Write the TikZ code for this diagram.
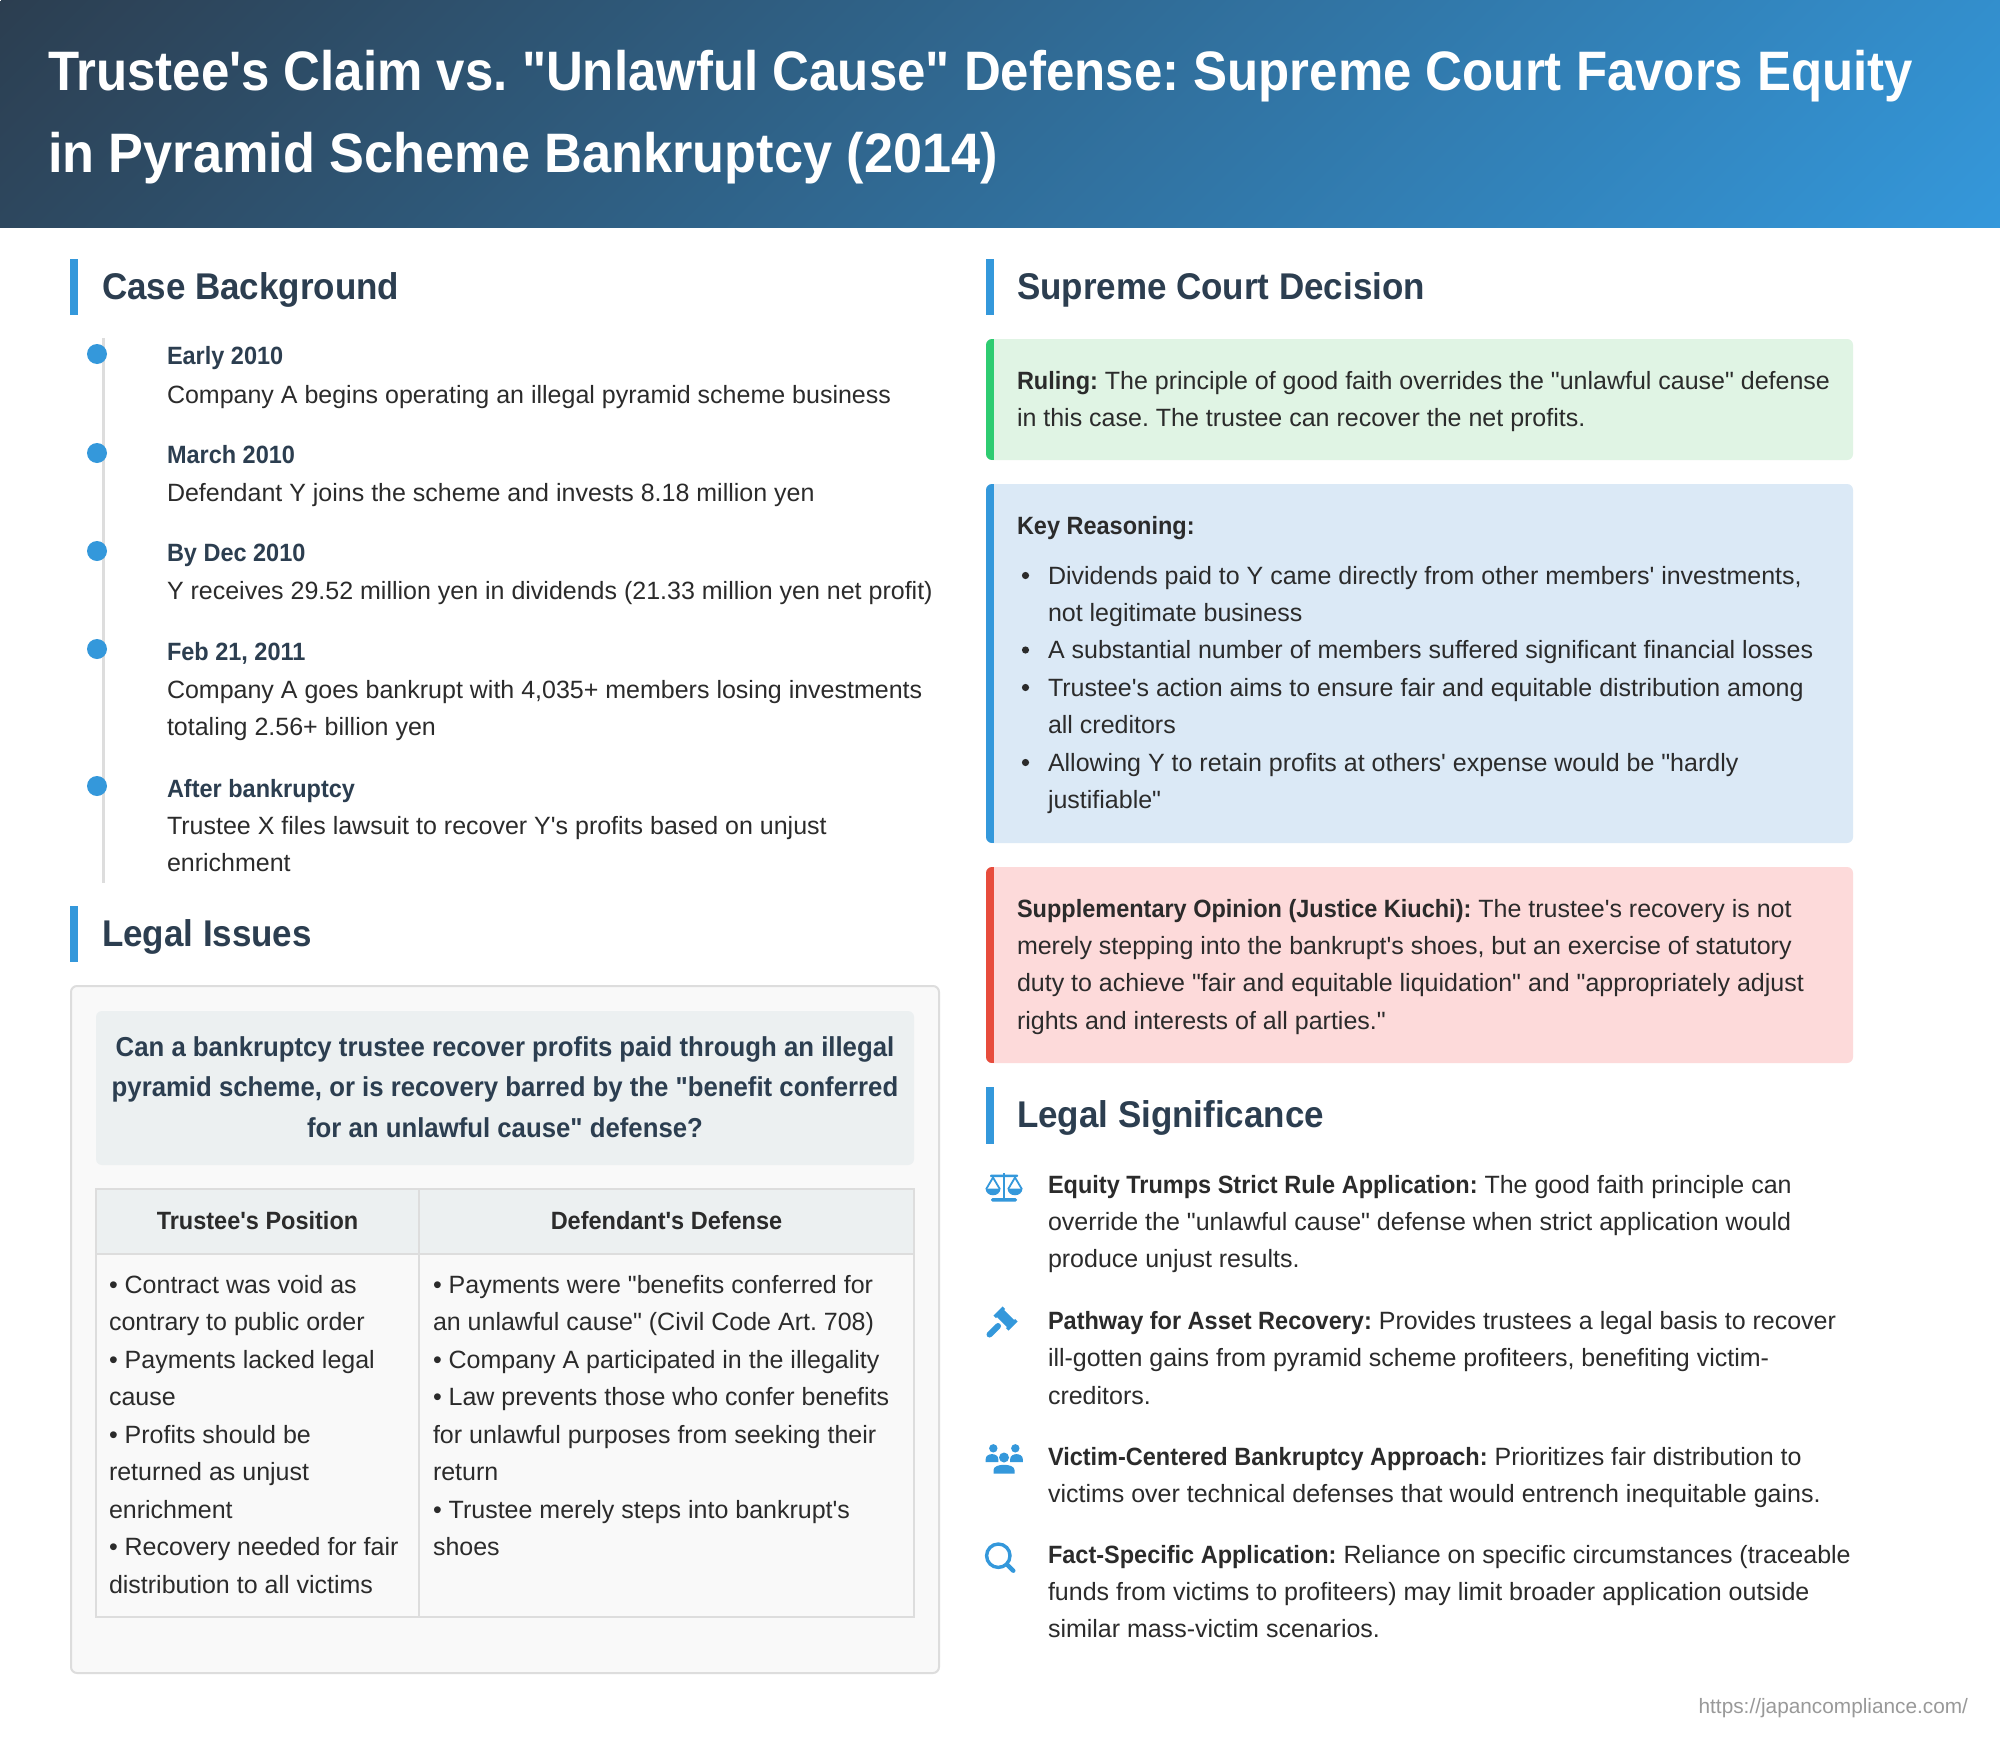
\documentclass[tikz,border=0pt]{standalone}
\usepackage{fontspec}
\newfontfamily\mainf{Liberation Sans}[BoldFeatures={FakeStretch=0.94}]
\newfontface\titlelong{Liberation Sans Bold}[FakeStretch=0.917]
\frenchspacing
\definecolor{navy}{HTML}{2C3E50}
\definecolor{accent}{HTML}{3498DB}
\definecolor{ink}{HTML}{2B2B2B}
\definecolor{rulegray}{HTML}{DDDDDD}
\definecolor{panelbg}{HTML}{F9F9F9}
\definecolor{cloud}{HTML}{ECF0F1}
\definecolor{greenbg}{HTML}{E0F4E4}
\definecolor{greenbar}{HTML}{2ECC71}
\definecolor{bluebg}{HTML}{DBE9F6}
\definecolor{redbg}{HTML}{FDDADA}
\definecolor{redbar}{HTML}{E74C3C}
\definecolor{foot}{HTML}{999999}
\pgfdeclarehorizontalshading{hdrshade}{1000pt}{rgb(0pt)=(.173,.243,.314); rgb(787.7pt)=(.204,.596,.859)}
\tikzset{
  txt/.style={inner sep=0pt,outer sep=0pt,text=ink,anchor=north west,align=left,font=\mainf\fontsize{12.5}{18.72}\selectfont},
  oneline/.style={inner sep=0pt,outer sep=0pt,anchor=base west},
  headline/.style={oneline,text=navy,font=\mainf\fontsize{18.6}{22}\selectfont\bfseries},
  yearline/.style={oneline,text=navy,font=\mainf\fontsize{12.5}{18.72}\selectfont\bfseries},
  dot/.style={fill=accent},
  icon/.style={fill=accent,draw=none},
  iconline/.style={draw=accent},
}
\newcommand\tx[5][]{\node[txt,#1] (#2) at ({#3},{#4-20}) {\rule{0pt}{10pt}#5};}
\newcommand\cbox[6]{\fill[#5,rounded corners=3pt] (#1,#2) rectangle (#3,#4);
  \begin{scope}\clip[rounded corners=3pt] (#1,#2) rectangle (#3,#4);
  \fill[#6] (#1,#2) rectangle ({#1+8},#4);\end{scope}}
\newcommand\secbar[3]{\fill[accent] (#1,#2) rectangle ({#1+8},#3);}
\begin{document}
\begin{tikzpicture}[x=0.5pt,y=-0.5pt]
\useasboundingbox (0,0) rectangle (2000,1739);
\fill[white] (0,0) rectangle (2000,1739);
% header band
\begin{scope}
\clip (0,0) rectangle (2000,228);
\node[inner sep=0pt,rotate=-45] (band) at (1000,114) {\pgfuseshading{hdrshade}};
\end{scope}
\node[inner sep=0pt,outer sep=0pt,anchor=north west,align=left,text=white,font=\mainf\fontsize{27.8}{41}\selectfont\bfseries] (title) at (48,31)
 {\rule{0pt}{30pt}{\titlelong\fontsize{27.8}{41}\selectfont Trustee's Claim vs. "Unlawful Cause" Defense: Supreme Court Favors Equity}\\in Pyramid Scheme Bankruptcy (2014)};
% section headings
\secbar{70}{259}{315}
\node[headline] (hbg) at (102,299) {Case Background};
\secbar{70}{906}{962}
\node[headline] (hli) at (102,946) {Legal Issues};
\secbar{986}{259}{315}
\node[headline] (hsc) at (1017,299) {Supreme Court Decision};
\secbar{986}{1087}{1144}
\node[headline] (hls) at (1017,1127) {Legal Significance};
% timeline
\fill[rulegray] (102,338) rectangle (105,883);
\foreach \n/\y in {a/354,b/453,c/551,d/649,e/786}{\fill[dot] (97,\y) circle[radius=10];}
\node[yearline] (y1) at (167,364) {Early 2010};
\tx{t1}{167}{403.5}{Company A begins operating an illegal pyramid scheme business}
\node[yearline] (y2) at (167,463) {March 2010};
\tx{t2}{167}{501.5}{Defendant Y joins the scheme and invests 8.18 million yen}
\node[yearline] (y3) at (167,561.5) {By Dec 2010};
\tx{t3}{167}{599.5}{Y receives 29.52 million yen in dividends (21.33 million yen net profit)}
\node[yearline] (y4) at (167,660) {Feb 21, 2011};
\tx{t4}{167}{698}{Company A goes bankrupt with 4,035+ members losing investments\\totaling 2.56+ billion yen}
\node[yearline] (y5) at (167,797) {After bankruptcy};
\tx{t5}{167}{834.5}{Trustee X files lawsuit to recover Y's profits based on unjust\\enrichment}
% legal issues panel
\draw[rulegray,fill=panelbg,line width=1pt,rounded corners=3pt] (71,986) rectangle (939,1673);
\fill[cloud,rounded corners=3pt] (96,1011) rectangle (914,1165);
\tx[anchor=north,align=center,text=navy,font={\mainf\fontsize{13.7}{20.3}\selectfont\bfseries}]{q}{505}{1056}{Can a bankruptcy trustee recover profits paid through an illegal\\pyramid scheme, or is recovery barred by the "benefit conferred\\for an unlawful cause" defense?}
% table
\fill[cloud] (96,1189) rectangle (914,1254);
\draw[rulegray,line width=1pt] (96,1189) rectangle (914,1617) (96,1254) -- (914,1254) (419,1189) -- (419,1617);
\node[yearline,anchor=base,text=ink] (c1) at (257.5,1229) {Trustee's Position};
\node[yearline,anchor=base,text=ink] (c2) at (666.5,1229) {Defendant's Defense};
\tx{b1}{109}{1293.5}{• Contract was void as\\contrary to public order\\• Payments lacked legal\\cause\\• Profits should be\\returned as unjust\\enrichment\\• Recovery needed for fair\\distribution to all victims}
\tx{b2}{433}{1293.5}{• Payments were "benefits conferred for\\an unlawful cause" (Civil Code Art. 708)\\• Company A participated in the illegality\\• Law prevents those who confer benefits\\for unlawful purposes from seeking their\\return\\• Trustee merely steps into bankrupt's\\shoes}
% decision boxes
\cbox{986}{339}{1853}{460}{greenbg}{greenbar}
\tx{r1}{1017}{389}{\textbf{Ruling:} The principle of good faith overrides the "unlawful cause" defense\\in this case. The trustee can recover the net profits.}
\cbox{986}{484}{1853}{843}{bluebg}{accent}
\tx{k0}{1017}{534.5}{\textbf{Key Reasoning:}}
\foreach \y in {575.5,650,687.5,762.5}{\fill[ink] (1025.5,\y) circle[radius=3.6];}
\tx{k1}{1048}{584}{Dividends paid to Y came directly from other members' investments,\\not legitimate business}
\tx{k2}{1048}{658.8}{A substantial number of members suffered significant financial losses}
\tx{k3}{1048}{696.2}{Trustee's action aims to ensure fair and equitable distribution among\\all creditors}
\tx{k4}{1048}{771}{Allowing Y to retain profits at others' expense would be "hardly\\justifiable"}
\cbox{986}{867}{1853}{1063}{redbg}{redbar}
\tx{s1}{1017}{917}{\textbf{Supplementary Opinion (Justice Kiuchi):} The trustee's recovery is not\\merely stepping into the bankrupt's shoes, but an exercise of statutory\\duty to achieve "fair and equitable liquidation" and "appropriately adjust\\rights and interests of all parties."}
% significance items
\tx{p1}{1048}{1193}{\textbf{Equity Trumps Strict Rule Application:} The good faith principle can\\override the "unlawful cause" defense when strict application would\\produce unjust results.}
\tx{p2}{1048}{1329.3}{\textbf{Pathway for Asset Recovery:} Provides trustees a legal basis to recover\\ill-gotten gains from pyramid scheme profiteers, benefiting victim-\\creditors.}
\tx{p3}{1048}{1465}{\textbf{Victim-Centered Bankruptcy Approach:} Prioritizes fair distribution to\\victims over technical defenses that would entrench inequitable gains.}
\tx{p4}{1048}{1563}{\textbf{Fact-Specific Application:} Reliance on specific circumstances (traceable\\funds from victims to profiteers) may limit broader application outside\\similar mass-victim scenarios.}
% icon: scales
\fill[icon,rounded corners=0.5pt] (990,1174.5) rectangle (1018,1177.2);
\fill[icon] (1002.6,1172.5) rectangle (1005.4,1199);
\fill[icon,rounded corners=0.7pt] (991,1198.2) rectangle (1017,1201.6);
\foreach \c in {993,1015}{
  \draw[iconline,line width=0.9pt] (\c-6.8,1189) -- (\c,1177.5) -- (\c+6.8,1189);
  \fill[icon] (\c-7.5,1188.5) -- (\c+7.5,1188.5) .. controls (\c+7,1197.5) and (\c-7,1197.5) .. (\c-7.5,1188.5) -- cycle;
}
% icon: gavel
\draw[iconline,line width=5pt] (999.5,1312.5) -- (1011.5,1324.5);
\draw[iconline,line width=6.5pt] (998,1311) -- (1000.5,1313.5) (1010.5,1323.5) -- (1013,1326);
\draw[iconline,line width=3pt,line cap=round] (989.5,1334.5) -- (998,1326);
% icon: users
\fill[icon] (993.3,1448.3) circle[radius=4.2] (1015.3,1448.3) circle[radius=4.2] (1004,1457.5) circle[radius=5];
\foreach \c in {992,1016.5}{\fill[icon] (\c-6.3,1462) -- (\c-6.3,1459) .. controls (\c-6.3,1452.5) and (\c+6.3,1452.5) .. (\c+6.3,1459) -- (\c+6.3,1462) -- cycle;}
\fill[icon] (993.5,1473.5) -- (993.5,1470) .. controls (993.5,1463) and (1014.5,1463) .. (1014.5,1470) -- (1014.5,1473.5) -- cycle;
% icon: search
\draw[iconline,line width=1.7pt] (998.3,1555.7) circle[radius=11.7];
\draw[iconline,line width=2.2pt,line cap=round] (1007,1564.5) -- (1013.3,1570.7);
% footer
\node[oneline,anchor=base east,text=foot,font=\mainf\fontsize{10.4}{12}\selectfont] (url) at (1968,1713) {https://japancompliance.com/};
\end{tikzpicture}
\end{document}
